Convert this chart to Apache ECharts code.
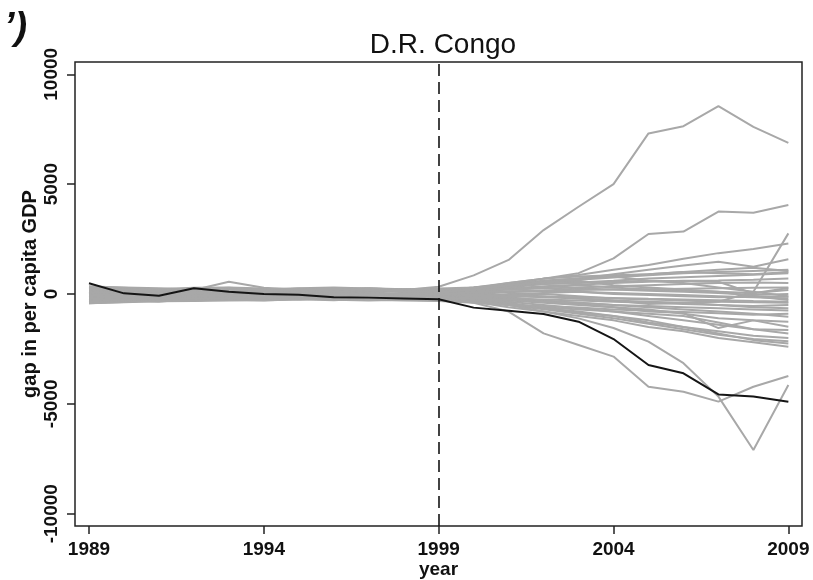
<!DOCTYPE html>
<html>
<head>
<meta charset="utf-8">
<script src="https://cdn.jsdelivr.net/npm/echarts@6/dist/echarts.min.js"></script>
<style>
  html, body { margin: 0; padding: 0; background: #fff; }
  #chart { width: 813px; height: 580px; }
</style>
</head>
<body>
<div id="chart"></div>
<script>
// years on the x axis
const years = [1989, 1990, 1991, 1992, 1993, 1994, 1995, 1996, 1997, 1998, 1999,
               2000, 2001, 2002, 2003, 2004, 2005, 2006, 2007, 2008, 2009];
const xTicks = [1989, 1994, 1999, 2004, 2009];
const yTicks = [-10000, -5000, 0, 5000, 10000];
const treatYear = 1999;

// D.R. Congo gap (black line)
const congo = [487, 30, -77, 259, 105, 0, -30, -150, -165, -200, -235,
               -620, -760, -910, -1260, -2050, -3230, -3610, -4570, -4670, -4900];

// placebo gaps (grey lines)
const donor01 = [-300, -200, -120, -60, 20, 80, 60, 120, 150, 180, 330, 850, 1550, 2910, 3970, 5000, 7310, 7640, 8550, 7610, 6880];
const donor02 = [250, 150, 100, 180, 120, 60, 30, 90, 120, 150, 120, 220, 420, 700, 950, 1620, 2730, 2840, 3750, 3700, 4050];
const donor03 = [-150, -80, 50, 120, -60, 40, 150, 80, 200, 100, 150, 300, 500, 700, 860, 1100, 1320, 1600, 1860, 2050, 2300];
const donor04 = [300, 220, 150, 100, 200, 160, 250, 180, 120, 200, 100, 200, 350, 550, 700, 900, 1100, 1300, 1470, 1240, 1580];
const donor05 = [-250, -180, -220, -150, -100, -200, -120, -220, -150, -100, -150, -100, -80, -150, -200, -300, -450, -400, -350, 100, 2760];
const donor06 = [120, 60, -40, 100, 180, 120, 90, 150, 70, 130, 40, 150, 300, 450, 520, 600, 700, 760, 820, 880, 940];
const donor07 = [-380, -300, -250, -180, -200, -150, -220, -120, -180, -250, -100, 100, 250, 350, 420, 500, 560, 600, 620, 650, 710];
const donor08 = [250, 180, 150, 220, 280, 200, 150, 230, 180, 120, 60, 200, 380, 450, 500, 560, 600, 580, 560, 30, 270];
const donor09 = [350, 280, 200, 250, 180, 230, 150, 200, 260, 180, 90, 100, 200, 300, 400, 300, 200, 150, 100, 50, 180];
const donor10 = [-300, -320, -280, -250, -180, -230, -160, -120, -170, -90, -120, 0, 80, 150, 250, 200, 150, 100, 50, -50, 0];
const donor11 = [-420, -360, -300, -280, -250, -300, -240, -280, -200, -250, -280, -150, 0, 50, 100, 0, -50, -100, -150, -120, -120];
const donor12 = [200, 180, 120, 90, 60, 140, 200, 120, 170, 220, 250, 300, 400, 500, 600, 400, 300, 200, 100, -100, -270];
const donor13 = [0, -60, -150, -120, -30, -100, -70, -40, -130, -100, -180, -150, -200, -250, -300, -350, -400, -450, -500, -550, -500];
const donor14 = [-250, -300, -350, -200, -260, -180, -140, -220, -120, -200, -100, -100, -150, -300, -400, -500, -600, -700, -800, -900, -1030];
const donor15 = [150, 100, 40, 0, -60, -120, -90, -150, -70, -130, -200, -250, -300, -400, -500, -600, -700, -900, -1100, -1200, -1260];
const donor16 = [280, 200, 160, 100, 60, 30, -30, 60, 0, -60, -30, -150, -250, -350, -450, -600, -800, -870, -1550, -1200, -1490];
const donor17 = [-200, -150, -100, -60, 0, 60, 0, -60, 30, -30, -80, -200, -350, -500, -650, -800, -1000, -1200, -1400, -1600, -1640];
const donor18 = [100, 0, -100, -160, -120, -60, -150, -90, -180, -120, -150, -250, -450, -650, -800, -1000, -1200, -1500, -1700, -1900, -2000];
const donor19 = [-180, -150, -120, -60, 0, -90, -30, -120, -60, -150, -200, -300, -500, -700, -900, -1100, -1350, -1600, -1850, -2050, -2150];
const donor20 = [320, 250, 200, 160, 120, 80, 50, 90, 30, 0, -60, -200, -400, -650, -850, -1000, -1300, -1500, -1800, -2100, -2250];
const donor21 = [-400, -330, -280, -300, -240, -180, -120, -160, -80, -140, -200, -350, -600, -800, -1000, -1200, -1500, -1700, -2000, -2200, -2400];
const donor22 = [0, 60, 120, 180, 220, 150, 120, 60, 0, -60, -90, -250, -500, -800, -1110, -1550, -2170, -3150, -4670, -7100, -4140];
const donor23 = [-100, -80, 0, 80, 60, 0, -40, -60, -120, -90, -150, -400, -800, -1790, -2320, -2850, -4220, -4450, -4900, -4220, -3730];
const donor24 = [150, 120, 220, 280, 300, 250, 220, 200, 260, 220, 180, 300, 450, 600, 700, 800, 900, 1000, 950, 900, 1000];
const donor25 = [-150, -90, 0, 120, 220, 180, 150, 220, 170, 120, 80, 150, 200, 250, 300, 350, 400, 450, 500, 520, 500];
const donor26 = [200, 150, 90, 180, 560, 280, 180, 120, 160, 100, 50, 50, 100, 150, 100, 50, 0, -50, -100, -150, -200];
const donor27 = [-350, -300, -250, -200, -120, -180, -240, -180, -120, -180, -240, -200, -50, 0, -100, -200, -250, -300, -350, -380, -400];
const donor28 = [80, 0, -80, -150, -220, -250, -200, -260, -300, -260, -300, -300, -250, -350, -400, -500, -550, -600, -650, -700, -750];
const donor29 = [330, 300, 260, 220, 180, 220, 260, 300, 250, 200, 150, 250, 500, 700, 800, 850, 900, 1000, 1100, 1200, 1050];
const donor30 = [-420, -380, -330, -320, -300, -280, -250, -220, -260, -300, -320, -400, -500, -600, -700, -800, -900, -1000, -1300, -1600, -1800];
const donor31 = [240, 200, 160, 120, 80, 140, 180, 220, 160, 120, 60, 0, -50, -100, -200, -300, -350, -400, -500, -600, -650];
const donor32 = [-250, -280, -200, -120, -60, -20, -60, -20, -60, -120, -80, 100, 300, 600, 700, 800, 600, 500, 300, 100, -100];
const donor33 = [100, 80, 40, 20, 60, 120, 200, 240, 180, 120, 80, 200, 400, 550, 650, 750, 850, 950, 1000, 1050, 1100];
const donor34 = [-60, -20, 30, -40, -80, -20, 30, -30, 20, -40, 10, -50, -100, -120, -150, -180, -220, -250, -280, -320, -350];
const donor35 = [60, 100, -20, 40, 90, 20, -30, 40, -20, 50, -20, 80, 120, 150, 180, 200, 220, 240, 260, 280, 300];
const donor36 = [-220, -250, -200, -220, -180, -120, -180, -160, -220, -200, -260, -380, -480, -560, -620, -700, -760, -820, -880, -940, -900];

const donors = [donor01, donor02, donor03, donor04, donor05, donor06, donor07, donor08, donor09, donor10,
                donor11, donor12, donor13, donor14, donor15, donor16, donor17, donor18, donor19, donor20,
                donor21, donor22, donor23, donor24, donor25, donor26, donor27, donor28, donor29, donor30,
                donor31, donor32, donor33, donor34, donor35, donor36];

function pairs(vals) {
    return years.map((y, i) => [y, vals[i]]);
}

let chart = echarts.init(document.getElementById('chart'));

let series = donors.map((d, i) => ({
    name: 'donor' + (i + 1),
    type: 'line',
    data: pairs(d),
    symbol: 'none',
    silent: true,
    lineStyle: { color: '#a8a8a8', width: 2 },
    z: 2
}));

series.push({
    name: 'D.R. Congo',
    type: 'line',
    data: pairs(congo),
    symbol: 'none',
    lineStyle: { color: '#151515', width: 2 },
    z: 4,
    markLine: {
        silent: true,
        symbol: 'none',
        label: { show: false },
        lineStyle: { color: '#151515', type: [12, 6], width: 1.6 },
        data: [{ xAxis: treatYear }]
    }
});

const labelFont = { fontFamily: 'Liberation Sans, Arial, sans-serif', fontWeight: 'bold', color: '#111' };

chart.setOption({
    animation: false,
    title: {
        text: 'D.R. Congo',
        left: 438,
        top: 26,
        textAlign: 'center',
        textStyle: { fontFamily: 'Liberation Sans, Arial, sans-serif', fontSize: 28, fontWeight: 'normal', color: '#111' }
    },
    graphic: [{
        type: 'text',
        left: 4,
        top: 10,
        style: { text: '’)', font: 'italic bold 38px Liberation Sans, Arial, sans-serif', fill: '#111' }
    }],
    grid: {
        left: 75, right: 11, top: 62, bottom: 54,
        outerBoundsMode: 'none',
        show: true,
        borderColor: '#222',
        borderWidth: 1.5
    },
    xAxis: {
        type: 'value',
        min: 1988.6,
        max: 2009.39,
        splitLine: { show: false },
        axisLine: { show: false, onZero: false },
        axisTick: { show: true, length: 8, customValues: xTicks, lineStyle: { color: '#222', width: 1.5 } },
        axisLabel: Object.assign({ customValues: xTicks, fontSize: 19, margin: 14, formatter: v => String(v) }, labelFont),
        name: 'year',
        nameLocation: 'middle',
        nameGap: 34,
        nameMoveOverlap: false,
        nameTextStyle: Object.assign({ fontSize: 19 }, labelFont)
    },
    yAxis: {
        type: 'value',
        min: -10560,
        max: 10560,
        splitLine: { show: false },
        axisLine: { show: false, onZero: false },
        axisTick: { show: true, length: 8, customValues: yTicks, lineStyle: { color: '#222', width: 1.5 } },
        axisLabel: Object.assign({ customValues: yTicks, rotate: 90, fontSize: 19, margin: 14, formatter: v => String(v) }, labelFont),
        name: 'gap in per capita GDP',
        nameLocation: 'middle',
        nameGap: 35,
        nameMoveOverlap: false,
        nameTextStyle: Object.assign({ fontSize: 20 }, labelFont)
    },
    series: series
});
</script>
</body>
</html>
